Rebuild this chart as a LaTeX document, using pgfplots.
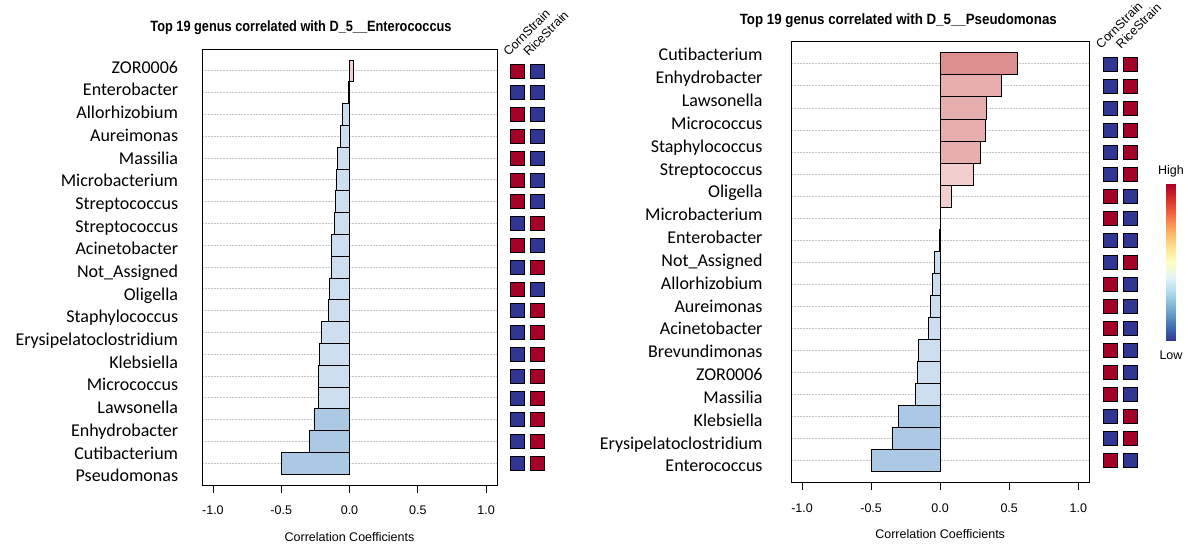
\documentclass[border=0pt]{standalone}
\usepackage{fontspec}
\setmainfont{Liberation Sans}
\newfontfamily\carlito{Carlito}
\usepackage{graphicx}
\usepackage{pgfplots}
\pgfplotsset{compat=1.18}
\definecolor{hmred}{RGB}{165,0,38}
\definecolor{hmblue}{RGB}{49,54,149}
\definecolor{lblue}{RGB}{204,222,239}
\definecolor{dblue}{RGB}{171,201,228}
\definecolor{lpink}{RGB}{242,206,206}
\definecolor{mpink}{RGB}{231,174,174}
\definecolor{dpink}{RGB}{221,142,142}
\pgfplotsset{
  barax/.style={scale only axis, xmin=-1.08, xmax=1.08, ymin=0, ymax=20, y dir=reverse,
    xtick={-1,-0.5,0,0.5,1}, xticklabels={-1.0,-0.5,0.0,0.5,1.0},
    ytick={1,...,19}, yticklabels={}, ymajorgrids,
    major grid style={gray!45, dash pattern=on 1.5pt off 1.5pt, line width=0.7pt},
    ytick style={draw=none}, xtick pos=bottom, tick align=outside, major tick length=7.5pt,
    xtick style={black, line width=0.8pt}, axis line style={line width=0.8pt},
    ticklabel style={font=\fontsize{12.5}{15}\selectfont},
    xticklabel style={yshift=-10pt},
    xlabel={Correlation Coefficients},
    xlabel style={font=\fontsize{12.5}{15}\selectfont, at={(axis description cs:0.5,0)}, anchor=base, yshift=-56pt},
    /pgf/number format/assume math mode=true},
  barplt/.style={xbar, bar width=1, bar shift=0pt, draw=black, line width=0.7pt},
  labax/.style={scale only axis, xmin=0, xmax=1, y dir=reverse, axis line style={draw=none},
    xtick=\empty, ytick={1,...,19}, ytick style={draw=none},
    yticklabel style={anchor=base east, inner sep=0pt, font=\carlito\fontsize{18}{20}\selectfont}},
  hmax/.style={scale only axis, xmin=-0.5, xmax=1.5, ymin=0, ymax=20, y dir=reverse, hide axis, clip=false},
  hmred/.style={only marks, mark=square*, mark size=7pt, mark options={fill=hmred, draw=black, line width=0.5pt}},
  hmblue/.style={only marks, mark=square*, mark size=7pt, mark options={fill=hmblue, draw=black, line width=0.5pt}},
}
\begin{document}
\begin{tikzpicture}
\useasboundingbox (0pt,0pt) rectangle (1194pt,547pt);
% ---------------- Left panel ----------------
\begin{axis}[barax, at={(202pt,62pt)}, anchor=south west, width=295pt, height=436pt]
\addplot[barplt, fill=lpink] coordinates {(0.027,1)};
\addplot[barplt, fill=lblue] coordinates {(-0.007,2) (-0.054,3) (-0.066,4) (-0.088,5) (-0.096,6) (-0.105,7) (-0.113,8) (-0.130,9) (-0.135,10) (-0.147,11) (-0.154,12) (-0.206,13) (-0.221,14) (-0.228,15) (-0.228,16)};
\addplot[barplt, fill=dblue] coordinates {(-0.260,17) (-0.294,18) (-0.500,19)};
\end{axis}
\begin{axis}[labax, at={(202pt,62pt)}, anchor=south west, width=295pt, height=436pt,
  ymin=-0.071, ymax=19.144, yticklabel style={xshift=-23.7pt},
  yticklabels={ZOR0006,Enterobacter,Allorhizobium,Aureimonas,Massilia,Microbacterium,Streptococcus,Streptococcus,Acinetobacter,Not\_Assigned,Oligella,Staphylococcus,Erysipelatoclostridium,Klebsiella,Micrococcus,Lawsonella,Enhydrobacter,Cutibacterium,Pseudomonas}]
\addplot[draw=none] coordinates {(0,1)};
\end{axis}
\begin{axis}[hmax, at={(507.6pt,62pt)}, anchor=south west, width=39.7pt, height=436pt]
\addplot[hmred] coordinates {(0,1) (0,3) (0,4) (0,5) (0,6) (0,7) (0,9) (0,11) (1,8) (1,10) (1,12) (1,13) (1,14) (1,15) (1,16) (1,17) (1,18) (1,19)};
\addplot[hmblue] coordinates {(0,2) (0,8) (0,10) (0,12) (0,13) (0,14) (0,15) (0,16) (0,17) (0,18) (0,19) (1,1) (1,2) (1,3) (1,4) (1,5) (1,6) (1,7) (1,9) (1,11)};
\end{axis}
\node[anchor=base] at (301pt,515pt) {\resizebox{301pt}{10.8pt}{\bfseries Top 19 genus correlated with D\_5\_\_Enterococcus}};
\node[rotate=45, anchor=base west, inner sep=0pt, font=\fontsize{12.5}{15}\selectfont] at (508.5pt,490pt) {CornStrain};
\node[rotate=45, anchor=base west, inner sep=0pt, font=\fontsize{12.5}{15}\selectfont] at (528.5pt,490pt) {RiceStrain};
% ---------------- Right panel ----------------
\begin{axis}[barax, at={(791pt,64.3pt)}, anchor=south west, width=298.3pt, height=441pt]
\addplot[barplt, fill=dpink] coordinates {(0.561,1)};
\addplot[barplt, fill=mpink] coordinates {(0.446,2) (0.335,3) (0.330,4) (0.294,5)};
\addplot[barplt, fill=lpink] coordinates {(0.241,6) (0.080,7) (0.003,8)};
\addplot[barplt, fill=lblue] coordinates {(-0.003,9) (-0.041,10) (-0.058,11) (-0.070,12) (-0.082,13) (-0.157,14) (-0.166,15) (-0.181,16)};
\addplot[barplt, fill=dblue] coordinates {(-0.304,17) (-0.349,18) (-0.499,19)};
\end{axis}
\begin{axis}[labax, at={(791pt,64.3pt)}, anchor=south west, width=298.3pt, height=441pt,
  ymin=0.155, ymax=19.472, yticklabel style={xshift=-28.3pt},
  yticklabels={Cutibacterium,Enhydrobacter,Lawsonella,Micrococcus,Staphylococcus,Streptococcus,Oligella,Microbacterium,Enterobacter,Not\_Assigned,Allorhizobium,Aureimonas,Acinetobacter,Brevundimonas,ZOR0006,Massilia,Klebsiella,Erysipelatoclostridium,Enterococcus}]
\addplot[draw=none] coordinates {(0,1)};
\end{axis}
\begin{axis}[hmax, at={(1100.3pt,64.3pt)}, anchor=south west, width=40pt, height=441pt]
\addplot[hmred] coordinates {(0,7) (0,8) (0,11) (0,12) (0,13) (0,14) (0,15) (0,16) (0,19) (1,1) (1,2) (1,3) (1,4) (1,5) (1,6) (1,10) (1,17) (1,18)};
\addplot[hmblue] coordinates {(0,1) (0,2) (0,3) (0,4) (0,5) (0,6) (0,9) (0,10) (0,17) (0,18) (1,7) (1,8) (1,9) (1,11) (1,12) (1,13) (1,14) (1,15) (1,16) (1,19)};
\end{axis}
\node[anchor=base] at (898.3pt,522pt) {\resizebox{317pt}{10.8pt}{\bfseries Top 19 genus correlated with D\_5\_\_Pseudomonas}};
\node[rotate=45, anchor=base west, inner sep=0pt, font=\fontsize{12.5}{15}\selectfont] at (1101pt,497.5pt) {CornStrain};
\node[rotate=45, anchor=base west, inner sep=0pt, font=\fontsize{12.5}{15}\selectfont] at (1121pt,497.5pt) {RiceStrain};
% ---------------- Colour key ----------------
\begin{axis}[at={(1166pt,206.3pt)}, anchor=south west, scale only axis, width=10.7pt, height=157.4pt,
  hide axis, xmin=0, xmax=1, ymin=0, ymax=1, zmin=-1, zmax=1, view={0}{90},
  colormap={rdylbu}{rgb255=(49,54,149) rgb255=(69,117,180) rgb255=(116,173,209) rgb255=(171,217,233) rgb255=(224,243,248) rgb255=(255,255,191) rgb255=(254,224,144) rgb255=(253,174,97) rgb255=(244,109,67) rgb255=(215,48,39) rgb255=(165,0,38)}]
\addplot3[surf, shader=interp, point meta=y, mesh/cols=2] coordinates {(0,0,0) (1,0,0) (0,0.25,0) (1,0.25,0) (0,0.5,0) (1,0.5,0) (0,0.75,0) (1,0.75,0) (0,1,0) (1,1,0)};
\end{axis}
\node[anchor=base, font=\fontsize{12.5}{15}\selectfont] at (1171pt,372pt) {High};
\node[anchor=base, font=\fontsize{12.5}{15}\selectfont] at (1171pt,188pt) {Low};
\end{tikzpicture}
\end{document}
